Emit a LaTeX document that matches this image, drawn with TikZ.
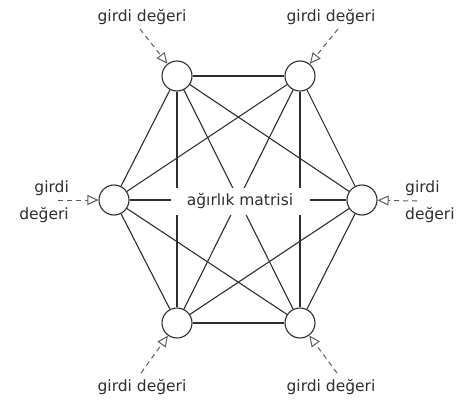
\documentclass[tikz,border=0pt]{standalone}
\usepackage{fontspec}
\setmainfont{DejaVu Sans}
\usetikzlibrary{arrows.meta}
\definecolor{ink}{HTML}{2E2E2E}
\definecolor{muted}{HTML}{5C5C5C}
\tikzset{
  neuron/.style={circle, draw=ink, fill=white, minimum size=30pt, inner sep=0pt, line width=1.1pt},
  wire/.style={draw=ink, line width=1.1pt},
  feed/.style={-{Triangle[open, length=11pt, width=10pt]}, dash pattern=on 5pt off 4pt,
               line width=1pt, draw=muted},
  lbl/.style={font=\fontsize{15.5}{27}\selectfont, text=ink, inner sep=0pt},
  wlbl/.style={lbl, fill=white, minimum width=139pt, minimum height=27pt},
}

\begin{document}
\begin{tikzpicture}[x=1pt, y=-1pt]
  \useasboundingbox (0,0) rectangle (457,401);

  % ------------------------------------------------ the six neurons
  \node[neuron] (tl) at (177,76) {};
  \node[neuron] (tr) at (300,76) {};
  \node[neuron] (l)  at (114,200) {};
  \node[neuron] (r)  at (362,200) {};
  \node[neuron] (bl) at (177,323) {};
  \node[neuron] (br) at (300,323) {};

  % ------------------------------------------------ every pair is connected
  \foreach \a/\b in {tl/tr, tl/l, tl/r, tl/bl, tl/br, tr/l, tr/r, tr/bl, tr/br,
                     l/r, l/bl, l/br, r/bl, r/br, bl/br} {
    \draw[wire] (\a) -- (\b);
  }

  \node[wlbl] (wm) at (240,201) {ağırlık matrisi};

  % ------------------------------------------------ inputs
  \coordinate (itl) at (140,29);
  \coordinate (itr) at (338,29);
  \coordinate (il)  at (58,200);
  \coordinate (ir)  at (417,201);
  \coordinate (ibl) at (141,373);
  \coordinate (ibr) at (337,373);

  \foreach \n in {tl, tr, l, r, bl, br} {
    \draw[feed] (i\n) -- (\n);
  }

  \node[lbl] (gtl) at (142,17.5) {girdi değeri};
  \node[lbl] (gtr) at (331,17.5) {girdi değeri};
  \node[lbl, align=right, anchor=north east] (gl) at (69,181) {girdi\\değeri};
  \node[lbl, align=left, anchor=north west] (gr) at (405,181) {girdi\\değeri};
  \node[lbl] (gbl) at (142,387.5) {girdi değeri};
  \node[lbl] (gbr) at (331,387.5) {girdi değeri};
\end{tikzpicture}
\end{document}
